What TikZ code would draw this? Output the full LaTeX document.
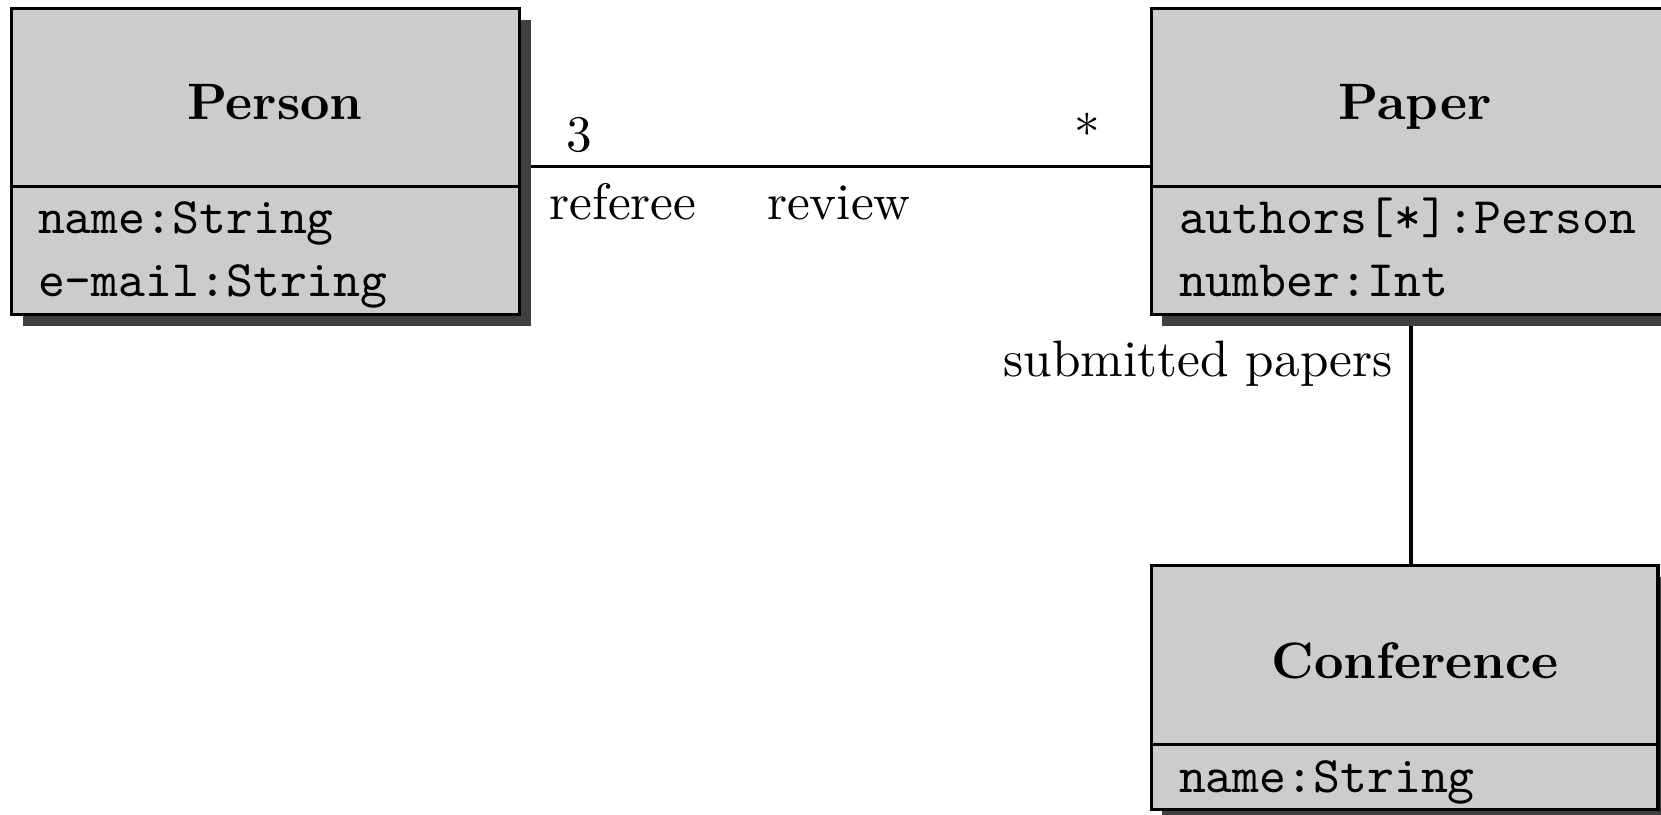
\documentclass[tikz,border=0pt]{standalone}
\usetikzlibrary{backgrounds}
\definecolor{classfill}{gray}{0.8}
\definecolor{classshadow}{gray}{0.25}
\begin{document}
\begin{tikzpicture}[x=0.1952pt,y=-0.1952pt,
  compartment/.style={draw=black, line width=0.65pt, fill=classfill, rectangle,
    inner sep=0pt, outer sep=0pt, anchor=north west},
  classtitle/.style={font=\bfseries, anchor=base, inner sep=0pt},
  attribute/.style={font=\ttfamily, anchor=base west, inner sep=0pt},
  rolelabel/.style={anchor=base, inner sep=0pt},
  assoc/.style={line width=0.65pt},
  shadowbox/.style={fill=classshadow}]
\useasboundingbox (0,0) rectangle (1661,815);

% class Person
\node[compartment, minimum width=99.16pt, minimum height=34.73pt] (person-head) at (11.7,8.5) {};
\node[compartment, minimum width=99.16pt, minimum height=25.02pt] (person-attr) at (person-head.south west) {};
\node[classtitle] (person-title) at (275,119.7) {Person};
\node[attribute] (person-a1) at (37,233) {name:String};
\node[attribute] (person-a2) at (37,296.6) {e-mail:String};

% class Paper
\node[compartment, minimum width=101.31pt, minimum height=34.73pt] (paper-head) at (1151.5,8.5) {};
\node[compartment, minimum width=101.31pt, minimum height=25.02pt] (paper-attr) at (paper-head.south west) {};
\node[classtitle] (paper-title) at (1415,119.7) {Paper};
\node[attribute] (paper-a1) at (1178,233) {authors[*]:Person};
\node[attribute] (paper-a2) at (1178,296.6) {number:Int};

% class Conference
\node[compartment, minimum width=98.87pt, minimum height=34.94pt] (conf-head) at (1151.5,565.7) {};
\node[compartment, minimum width=98.87pt, minimum height=12.61pt] (conf-attr) at (conf-head.south west) {};
\node[classtitle] (conf-title) at (1415,678) {Conference};
\node[attribute] (conf-a1) at (1178,792) {name:String};

% drop shadows of the class boxes
\begin{scope}[on background layer]
  \fill[shadowbox] ([shift={(11,11)}]person-head.north west) rectangle ([shift={(11,11)}]person-attr.south east);
  \fill[shadowbox] ([shift={(11,11)}]paper-head.north west) rectangle ([shift={(11,11)}]paper-attr.south east);
  \fill[shadowbox] ([shift={(11,11)}]conf-head.north west) rectangle ([shift={(11,11)}]conf-attr.south east);
\end{scope}

% association review: Person -- Paper
\draw[assoc] ([shift={(11,68.8)}]person-head.east) -- ([shift={(0,68.8)}]paper-head.west);
\node[rolelabel] (mult-person) at (579,151) {3};
\node[rolelabel] (mult-paper) at (1087,151) {*};
\node[rolelabel] (role-referee) at (623,219) {referee};
\node[rolelabel] (assoc-review) at (839,219) {review};

% association Paper -- Conference
\draw[assoc] ([shift={(0,11)}]paper-attr.south) -- (paper-attr.south |- conf-head.north);
\node[rolelabel, anchor=base east] (role-submitted) at (1394,376) {submitted papers};
\end{tikzpicture}
\end{document}
